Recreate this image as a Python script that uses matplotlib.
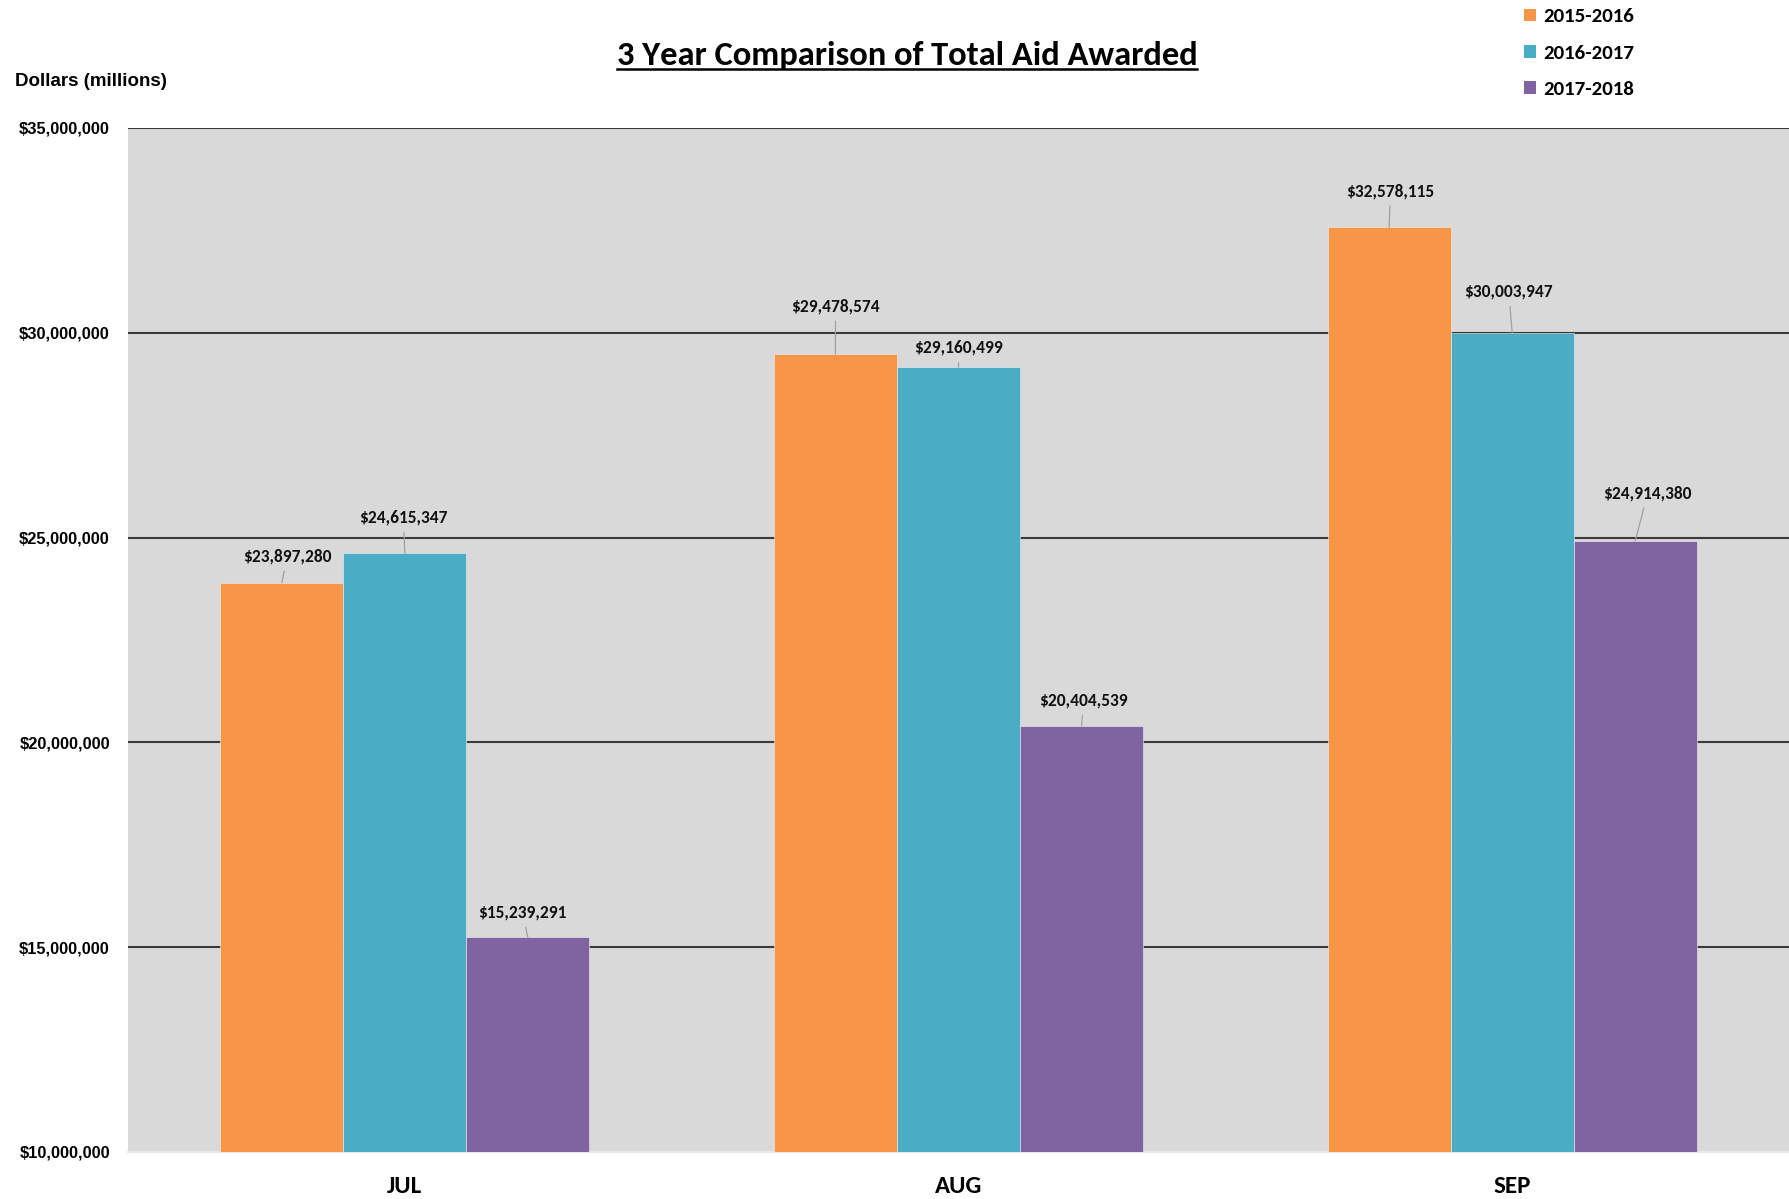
import numpy as np
import matplotlib
matplotlib.use("Agg")
import matplotlib.pyplot as plt
from matplotlib.patches import Patch
from matplotlib.lines import Line2D

plt.rcParams['font.family'] = ['Carlito', 'DejaVu Sans']

months = ['JUL', 'AUG', 'SEP']
years = ['2015-2016', '2016-2017', '2017-2018']
aid_2015 = [23897280, 29478574, 32578115]
aid_2016 = [24615347, 29160499, 30003947]
aid_2017 = [15239291, 20404539, 24914380]
yticks = [10000000, 15000000, 20000000, 25000000, 30000000, 35000000]

colors = ['#F79646', '#4BACC6', '#8064A2']

# callout offsets (points) from bar top to label centre, per series / month
label_dx = [[4, 0, 1], [-1, 0, -2.5], [-4, 1.6, 9]]
label_dy = [[19, 34.5, 26], [26, 14, 29.6], [18, 18, 34.5]]

fig = plt.figure(figsize=(17.89, 11.99), dpi=100)
ax = fig.add_axes([128 / 1789, 47 / 1199, 1 - 128 / 1789, (1152 - 128) / 1199])
ax.set_facecolor('#D9D9D9')

x = np.arange(len(months))
w = 2 / 9
series = [aid_2015, aid_2016, aid_2017]
for i, vals in enumerate(series):
    pos = x + (i - 1) * w
    ax.bar(pos, vals, width=w, color=colors[i], edgecolor='#f2f2f2',
           linewidth=0.4, zorder=3, label=years[i])
    for j, v in enumerate(vals):
        ax.annotate('${:,}'.format(v), xy=(pos[j], v),
                    xytext=(label_dx[i][j], label_dy[i][j]),
                    textcoords='offset points', ha='center', va='center',
                    fontsize=12.5, fontweight='bold', color='#111111', zorder=5,
                    arrowprops=dict(arrowstyle='-', color='#a0a0a0', lw=0.9,
                                    shrinkA=3, shrinkB=0))

ax.set_xlim(-0.5, 2.5)
ax.set_ylim(10000000, 35000000)
ax.set_yticks(yticks)
ax.set_yticklabels(['${:,}'.format(t) for t in yticks])
ax.set_xticks(x)
ax.set_xticklabels(months)
ax.tick_params(axis='y', length=0, pad=13, labelsize=11.8)
ax.tick_params(axis='x', length=0, pad=17, labelsize=18)
for lab in ax.get_yticklabels():
    lab.set_fontweight('bold')
    lab.set_family(['Liberation Sans', 'DejaVu Sans'])
for lab in ax.get_xticklabels():
    lab.set_fontweight('bold')
for g in yticks[1:]:
    ax.axhline(g, color='#3a3a3a', lw=1.5, zorder=2)

for s in ['top', 'left', 'right']:
    ax.spines[s].set_visible(False)
ax.spines['bottom'].set_color('#e8e8e8')
ax.spines['bottom'].set_linewidth(1.5)

fig.text(15 / 1789, 1 - 82 / 1199, 'Dollars (millions)', fontsize=13.5,
         fontweight='bold', va='center', ha='left',
         family=['Liberation Sans', 'DejaVu Sans'])

title = fig.text(907 / 1789, 1 - 55 / 1199, '3 Year Comparison of Total Aid Awarded',
                 fontsize=24.8, fontweight='bold', ha='center', va='center')
# underline the title
fig.canvas.draw()
bb = title.get_window_extent(renderer=fig.canvas.get_renderer())
uy = (bb.y0 + 1) / fig.bbox.height
fig.add_artist(Line2D([bb.x0 / fig.bbox.width, bb.x1 / fig.bbox.width], [uy, uy],
                      color='black', lw=1.8, transform=fig.transFigure))

handles = [Patch(facecolor=c, edgecolor='none') for c in colors]
leg = fig.legend(handles, years, loc='upper left', bbox_to_anchor=(1516 / 1789, 1.0),
                 frameon=False, fontsize=15, handlelength=0.55, handleheight=0.55,
                 handletextpad=0.35, labelspacing=0.93, borderaxespad=0.2,
                 borderpad=0.2)
for t in leg.get_texts():
    t.set_fontweight('bold')

fig.savefig('out.png', dpi=100)
